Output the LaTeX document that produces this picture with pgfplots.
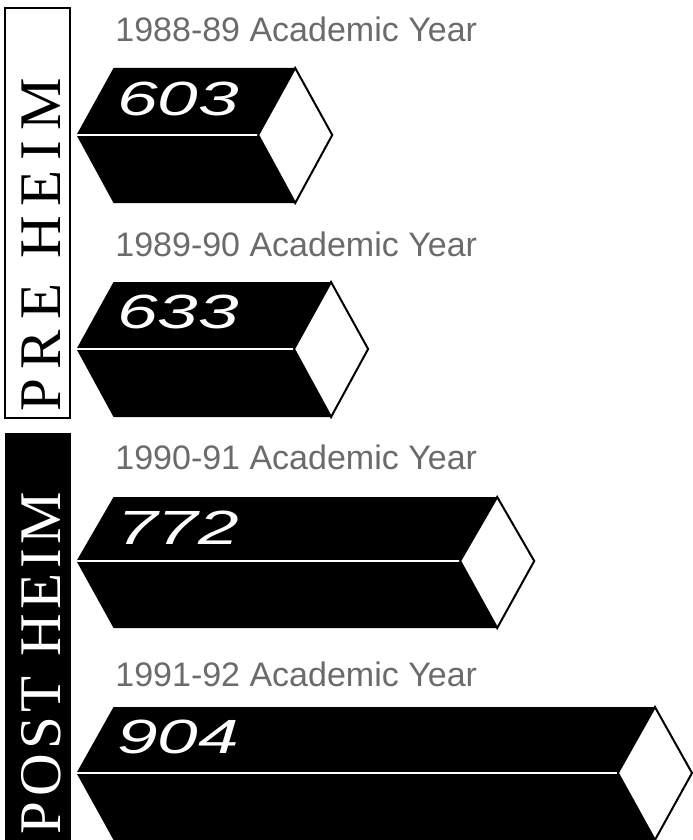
\documentclass[border=0pt]{standalone}
\usepackage{pgfplots}
\pgfplotsset{compat=1.18}
\usepackage{fontspec}
\usepackage{graphicx}
\setmainfont{Liberation Sans}
\newfontfamily\sidefontA[LetterSpace=17]{Liberation Serif}
\newfontfamily\sidefontB[LetterSpace=8]{Liberation Serif}
\definecolor{labelgray}{gray}{0.42}
\begin{document}
\begin{tikzpicture}
\path[use as bounding box] (0,0) rectangle (346pt,420pt);
\begin{axis}[at={(0,0)}, anchor=south west, scale only axis,
  width=346pt, height=420pt, xmin=325, xmax=904, ymin=0, ymax=840,
  y dir=reverse, axis lines=none, clip=false]
% 1988-89 : 603
\addplot[fill=black, draw=none, mark=none] coordinates {(389,135) (420,68) (572,68) (603,135) (572,203) (420,203)} --cycle;
\addplot[white, line width=1.3pt, mark=none] coordinates {(389,135) (541,135)};
\addplot[fill=white, draw=black, line width=1pt, mark=none] coordinates {(572,68) (603,135) (572,203) (541,135)} --cycle;
% 1989-90 : 633
\addplot[fill=black, draw=none, mark=none] coordinates {(389,349) (420,282) (602,282) (633,349) (602,417) (420,417)} --cycle;
\addplot[white, line width=1.3pt, mark=none] coordinates {(389,349) (571,349)};
\addplot[fill=white, draw=black, line width=1pt, mark=none] coordinates {(602,282) (633,349) (602,417) (571,349)} --cycle;
% 1990-91 : 772
\addplot[fill=black, draw=none, mark=none] coordinates {(389,561) (420,497) (741,497) (772,561) (741,628) (420,628)} --cycle;
\addplot[white, line width=1.3pt, mark=none] coordinates {(389,561) (710,561)};
\addplot[fill=white, draw=black, line width=1pt, mark=none] coordinates {(741,497) (772,561) (741,628) (710,561)} --cycle;
% 1991-92 : 904
\addplot[fill=black, draw=none, mark=none] coordinates {(389,773) (420,707) (873,707) (904,773) (873,840) (420,840)} --cycle;
\addplot[white, line width=1.3pt, mark=none] coordinates {(389,773) (842,773)};
\addplot[fill=white, draw=black, line width=1pt, mark=none] coordinates {(873,707) (904,773) (873,840) (842,773)} --cycle;
\end{axis}
\begin{scope}[x=0.5pt, y=-0.5pt, shift={(0pt,420pt)}]
% side boxes
\draw[line width=1pt, fill=white] (5,8) rectangle (70,418);
\node[rotate=90, inner sep=0] at (41,245) {\fontsize{29.5}{29.5}\sidefontA PRE HEIM};
\fill[black] (5,433) rectangle (71,840);
\node[rotate=90, inner sep=0, text=white] at (41,663) {\fontsize{29.5}{29.5}\sidefontB POST HEIM};
% year labels
\foreach \yy/\txt in {42/1988-89, 257/1989-90, 470/1990-91, 687/1991-92}
  \node[anchor=base west, inner sep=0, text=labelgray] at (115,\yy) {\fontsize{17}{17}\selectfont \txt\ Academic Year};
% values
\foreach \yy/\val in {116/603, 329/633, 545/772, 754/904}
  \node[anchor=base west, inner sep=0, text=white] at (117,\yy) {\scalebox{1.52}[1]{\fontsize{24}{24}\selectfont\itshape \val}};
\end{scope}
\end{tikzpicture}
\end{document}
